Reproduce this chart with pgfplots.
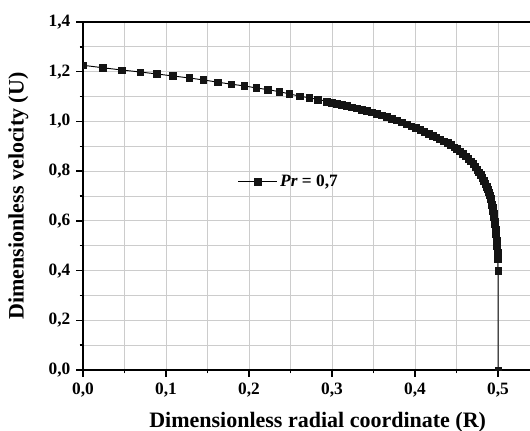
\documentclass[border=0pt]{standalone}
\usepackage{pgfplots}
\pgfplotsset{compat=1.18}
\usepackage{pgfplotstable}
\usepackage{fontspec}
\setmainfont{Liberation Serif}

\newcommand{\ticksize}{\fontsize{13}{15}\selectfont\bfseries}
\newcommand{\labelsize}{\fontsize{16.5}{19}\selectfont\bfseries}

% Velocity profile U(R), Pr = 0.7
\pgfplotstableread{
R       U
0.0000  1.226
0.0237  1.216
0.0466  1.207
0.0687  1.199
0.0888  1.191
0.1081  1.183
0.1277  1.175
0.1449  1.167
0.1623  1.158
0.1783  1.150
0.1940  1.143
0.2084  1.135
0.2225  1.128
0.2361  1.120
0.2485  1.111
0.2606  1.102
0.2723  1.095
0.2828  1.089
0.2936  1.081
0.2995  1.076
0.3055  1.072
0.3115  1.067
0.3175  1.063
0.3235  1.058
0.3295  1.053
0.3355  1.048
0.3415  1.043
0.3475  1.038
0.3535  1.032
0.3595  1.025
0.3655  1.019
0.3715  1.012
0.3775  1.005
0.3835  0.997
0.3895  0.989
0.3955  0.981
0.4010  0.974
0.4060  0.966
0.4110  0.959
0.4160  0.952
0.4210  0.944
0.4255  0.937
0.4300  0.929
0.4345  0.921
0.4390  0.914
0.4430  0.906
0.4470  0.897
0.4505  0.890
0.4540  0.880
0.4575  0.871
0.4610  0.861
0.4640  0.850
0.4670  0.840
0.4700  0.829
0.4725  0.818
0.4750  0.807
0.4770  0.796
0.4790  0.785
0.4810  0.773
0.4828  0.762
0.4845  0.750
0.4860  0.738
0.4873  0.727
0.4886  0.716
0.4897  0.703
0.4907  0.690
0.4916  0.678
0.4924  0.666
0.4931  0.653
0.4937  0.642
0.4943  0.629
0.4948  0.618
0.4953  0.606
0.4957  0.597
0.4961  0.587
0.4965  0.575
0.4969  0.564
0.4972  0.555
0.4975  0.546
0.4978  0.535
0.4981  0.523
0.4983  0.516
0.4985  0.508
0.4987  0.498
0.4989  0.489
0.4991  0.479
0.4992  0.474
0.4993  0.468
0.4994  0.461
0.4995  0.455
0.4996  0.448
0.5000  0.400
0.5000  0.000
}\profile

\begin{document}
\begin{tikzpicture}
\begin{axis}[
  scale only axis,
  width=342.4pt, height=261pt,
  xmin=0, xmax=0.55,
  ymin=0, ymax=1.4,
  xtick={0,0.1,...,0.5},
  ytick={0,0.2,...,1.4},
  minor x tick num=1,
  minor y tick num=1,
  grid=both,
  major grid style={line width=0.75pt, draw=black!20},
  minor grid style={line width=0.75pt, draw=black!20},
  axis line style={line width=1.2pt, black},
  tick style={line width=1.1pt, black},
  tick align=outside,
  tick pos=left,
  major tick length=5pt,
  minor tick length=2.6pt,
  /pgf/number format/.cd, fixed, fixed zerofill, precision=1, use comma, assume math mode=true,
  /pgfplots/.cd,
  ticklabel style={font=\ticksize},
  xticklabel style={yshift=-1pt},
  yticklabel style={xshift=-1pt},
  xlabel={\labelsize Dimensionless radial coordinate (R)},
  ylabel={\labelsize Dimensionless velocity (U)},
  every axis x label/.style={at={([xshift=176pt,yshift=-42.75pt]rel axis cs:0,0)}, anchor=base},
  every axis y label/.style={at={([xshift=-37.5pt]rel axis cs:0,0.5)}, rotate=90, anchor=south},
  clip marker paths=true,
  legend style={at={(axis cs:0.186,0.757)}, anchor=west, draw=none, fill=none,
    inner xsep=0pt, inner ysep=0pt},
  legend image code/.code={\draw[mark repeat=2,mark phase=2] plot coordinates {(0pt,0pt) (14.6pt,0pt) (29.2pt,0pt)};},
]
\addplot[black, line width=0.7pt, mark=square*, mark size=2.5pt,
  mark options={fill=black!92, draw=black!92, line width=0.2pt}]
  table[x=R, y=U] {\profile};
\addlegendentry{\ticksize\textit{Pr} = 0,7}
\end{axis}
\pgfresetboundingbox
\useasboundingbox ([xshift=-62.25pt,yshift=-45pt]current axis.south west)
  rectangle ([xshift=335.25pt,yshift=277.5pt]current axis.south west);
\end{tikzpicture}
\end{document}
